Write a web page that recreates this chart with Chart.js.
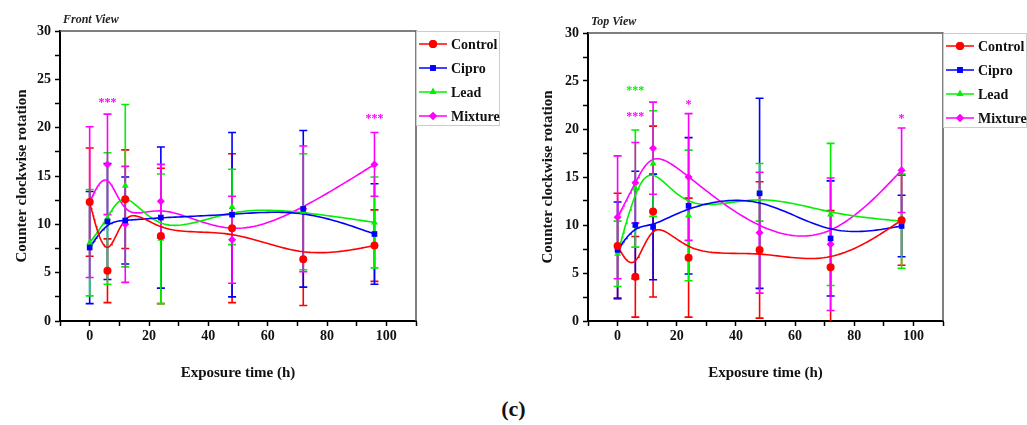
<!DOCTYPE html>
<html>
<head>
<meta charset="utf-8">
<script src="https://cdn.jsdelivr.net/npm/chart.js@4.4.1/dist/chart.umd.min.js"></script>
<style>
body { margin: 0; background: #fff; width: 1027px; height: 425px; position: relative; overflow: hidden; }
canvas { position: absolute; top: 0; }
#front { left: 0; }
#top { left: 525px; }
#panel { position: absolute; left: 0; width: 1027px; top: 396px; text-align: center; font: bold 22px "Liberation Serif", serif; color: #111; }
</style>
</head>
<body>
<canvas id="front" width="505" height="390"></canvas>
<canvas id="top" width="502" height="390"></canvas>
<div id="panel">(c)</div>
<script>
const hours = [0, 6, 12, 24, 48, 72, 96];
const names = ['Control', 'Cipro', 'Lead', 'Mixture'];
const colors = ['#FF0000', '#0000FF', '#00F000', '#FF00FF'];
const markers = ['circle', 'rect', 'triangle', 'rectRot'];

// Front view: means and error bars
const frontControl = [12.3, 5.2, 12.6, 8.8, 9.6, 6.4, 7.8];
const frontControlErr = [5.6, 3.3, 5.1, 7.0, 7.7, 4.8, 3.7];
const frontCipro = [7.6, 10.3, 10.4, 10.7, 11.0, 11.6, 9.0];
const frontCiproErr = [5.8, 6.0, 4.5, 7.3, 8.5, 8.1, 5.2];
const frontLead = [8.1, 10.6, 14.0, 8.5, 11.8, 11.3, 10.2];
const frontLeadErr = [5.5, 6.8, 8.4, 6.7, 3.9, 6.0, 4.7];
const frontMixture = [12.3, 16.2, 10.0, 12.4, 8.4, 11.6, 16.2];
const frontMixtureErr = [7.8, 5.2, 6.0, 3.8, 4.5, 6.5, 3.3];

// Top view
const topControl = [7.8, 4.6, 11.4, 6.6, 7.4, 5.6, 10.5];
const topControlErr = [5.5, 4.2, 8.9, 6.2, 7.1, 5.9, 4.7];
const topCipro = [7.4, 10.0, 9.8, 12.0, 13.3, 8.6, 9.9];
const topCiproErr = [5.0, 5.6, 5.5, 7.1, 9.9, 6.0, 3.2];
const topLead = [7.0, 13.8, 16.4, 11.0, 13.4, 11.1, 10.4];
const topLeadErr = [3.4, 6.1, 5.5, 6.8, 3.0, 7.4, 4.9];
const topMixture = [10.8, 14.4, 18.0, 15.0, 9.2, 8.0, 15.7];
const topMixtureErr = [6.4, 4.2, 4.8, 6.6, 6.3, 6.9, 4.4];

// significance marks: series, hour, height, text
const frontStars = [[3, 6, 22.8, '***'], [3, 96, 21.1, '***']];
const topStars = [[2, 6, 24.2, '***'], [3, 6, 21.5, '***'], [3, 24, 22.7, '*'], [3, 96, 21.3, '*']];

const yTicks = [0, 5, 10, 15, 20, 25, 30];
const xTicks = [0, 20, 40, 60, 80, 100];

// cubic B-spline with the points as control points (ends clamped)
function bspline(xs, ys) {
  const n = xs.length;
  const px = [xs[0], xs[0]].concat(xs, [xs[n - 1], xs[n - 1]]);
  const py = [ys[0], ys[0]].concat(ys, [ys[n - 1], ys[n - 1]]);
  const out = [];
  for (let i = 0; i + 3 < px.length; i++) {
    for (let k = 0; k <= 20; k++) {
      const t = k / 20;
      const b0 = (1 - t) ** 3 / 6;
      const b1 = (3 * t ** 3 - 6 * t ** 2 + 4) / 6;
      const b2 = (-3 * t ** 3 + 3 * t ** 2 + 3 * t + 1) / 6;
      const b3 = t ** 3 / 6;
      out.push({
        x: b0 * px[i] + b1 * px[i + 1] + b2 * px[i + 2] + b3 * px[i + 3],
        y: b0 * py[i] + b1 * py[i + 1] + b2 * py[i + 2] + b3 * py[i + 3]
      });
    }
  }
  return out;
}

const decor = {
  id: 'decor',
  beforeDatasetsDraw(chart, args, o) {
    const { ctx, scales: { x, y } } = chart;
    ctx.save();
    ctx.lineWidth = 1.6;
    o.means.forEach((m, s) => {
      ctx.strokeStyle = colors[s];
      hours.forEach((h, i) => {
        const px = x.getPixelForValue(h);
        const lo = m[i] - o.errs[s][i];
        const top = y.getPixelForValue(m[i] + o.errs[s][i]);
        const bot = y.getPixelForValue(Math.max(0, lo));
        ctx.beginPath();
        ctx.moveTo(px, top); ctx.lineTo(px, bot);
        ctx.moveTo(px - 4, top); ctx.lineTo(px + 4, top);
        if (lo > 0) { ctx.moveTo(px - 4, bot); ctx.lineTo(px + 4, bot); }
        ctx.stroke();
      });
    });
    ctx.restore();
  },
  afterDraw(chart, args, o) {
    const { ctx, chartArea: a, scales: { x, y } } = chart;
    ctx.save();
    // top and right frame
    ctx.strokeStyle = '#555';
    ctx.lineWidth = 1.5;
    ctx.beginPath();
    ctx.moveTo(a.left, a.top); ctx.lineTo(a.right, a.top); ctx.lineTo(a.right, a.bottom);
    ctx.stroke();
    // panel title
    ctx.fillStyle = '#222';
    ctx.font = 'italic bold 12px "Liberation Serif", serif';
    ctx.textBaseline = 'alphabetic';
    ctx.fillText(o.title, a.left + 3, a.top - 8);
    // stars
    ctx.font = 'bold 12px "Liberation Serif", serif';
    ctx.textAlign = 'center';
    ctx.textBaseline = 'middle';
    o.stars.forEach(([s, h, v, t]) => {
      ctx.fillStyle = colors[s];
      ctx.fillText(t, x.getPixelForValue(h), y.getPixelForValue(v) + 2);
    });
    // legend
    const bx = a.right, by = a.top, bw = 83, bh = 94;
    ctx.fillStyle = '#fff';
    ctx.fillRect(bx, by, bw, bh);
    ctx.strokeStyle = '#ccc';
    ctx.lineWidth = 1;
    ctx.strokeRect(bx + 0.5, by + 0.5, bw, bh);
    ctx.textAlign = 'left';
    ctx.font = 'bold 14px "Liberation Serif", serif';
    names.forEach((nm, s) => {
      const ry = by + 13 + s * 24;
      ctx.strokeStyle = colors[s];
      ctx.lineWidth = 1.5;
      ctx.beginPath(); ctx.moveTo(bx + 3, ry); ctx.lineTo(bx + 31, ry); ctx.stroke();
      ctx.fillStyle = colors[s];
      Chart.helpers.drawPoint(ctx, { pointStyle: markers[s], radius: 4, rotation: 0, borderWidth: 0 }, bx + 17, ry);
      ctx.fill();
      ctx.fillStyle = '#111';
      ctx.fillText(nm, bx + 35, ry + 1);
    });
    ctx.restore();
  }
};

function makeChart(id, title, means, errs, stars, pad) {
  const datasets = [];
  means.forEach((m, s) => {
    datasets.push({
      type: 'scatter', label: names[s],
      data: hours.map((h, i) => ({ x: h, y: m[i] })),
      pointStyle: markers[s], pointRadius: 4,
      backgroundColor: colors[s], borderColor: colors[s], borderWidth: 0,
      showLine: false, order: 1
    });
    datasets.push({
      type: 'line', label: names[s] + ' fit',
      data: bspline(hours, m),
      borderColor: colors[s], borderWidth: 1.6,
      pointRadius: 0, fill: false, order: 2
    });
  });
  return new Chart(document.getElementById(id), {
    type: 'scatter',
    data: { datasets },
    plugins: [decor],
    options: {
      responsive: false,
      animation: false,
      layout: { padding: { top: pad.top, right: pad.right, left: 0, bottom: 0 } },
      plugins: {
        legend: { display: false },
        tooltip: { enabled: false },
        decor: { title, means, errs, stars }
      },
      scales: {
        x: {
          type: 'linear', min: -10, max: 110,
          afterFit(s) { s.height = 69; },
          border: { color: '#000', width: 2 },
          grid: { drawOnChartArea: false, color: '#000', tickLength: 5, tickWidth: 1.5 },
          ticks: {
            stepSize: 10, autoSkip: false, maxRotation: 0, padding: 2, color: '#111',
            font: { family: '"Liberation Serif", serif', size: 14, weight: 'bold' },
            callback: v => xTicks.includes(v) ? String(v) : ''
          },
          title: {
            display: true, text: 'Exposure time (h)', color: '#111',
            font: { family: '"Liberation Serif", serif', size: 15, weight: 'bold' },
            padding: { top: 0, bottom: 8 }
          }
        },
        y: {
          min: 0, max: 30,
          afterFit(s) { s.width = pad.axis; },
          border: { color: '#000', width: 2 },
          grid: { drawOnChartArea: false, color: '#000', tickLength: 5, tickWidth: 1.5 },
          ticks: {
            stepSize: 2.5, autoSkip: false, padding: 4, color: '#111',
            font: { family: '"Liberation Serif", serif', size: 14, weight: 'bold' },
            callback: v => yTicks.includes(v) ? String(v) : ''
          },
          title: {
            display: true, text: 'Counter clockwise rotation', color: '#111',
            font: { family: '"Liberation Serif", serif', size: 15, weight: 'bold' },
            padding: { top: pad.title, bottom: 0 }
          }
        }
      }
    }
  });
}

makeChart('front', 'Front View',
  [frontControl, frontCipro, frontLead, frontMixture],
  [frontControlErr, frontCiproErr, frontLeadErr, frontMixtureErr],
  frontStars, { top: 31, right: 89, axis: 60, title: 13 });

makeChart('top', 'Top View',
  [topControl, topCipro, topLead, topMixture],
  [topControlErr, topCiproErr, topLeadErr, topMixtureErr],
  topStars, { top: 33, right: 84, axis: 63, title: 14 });
</script>
</body>
</html>
